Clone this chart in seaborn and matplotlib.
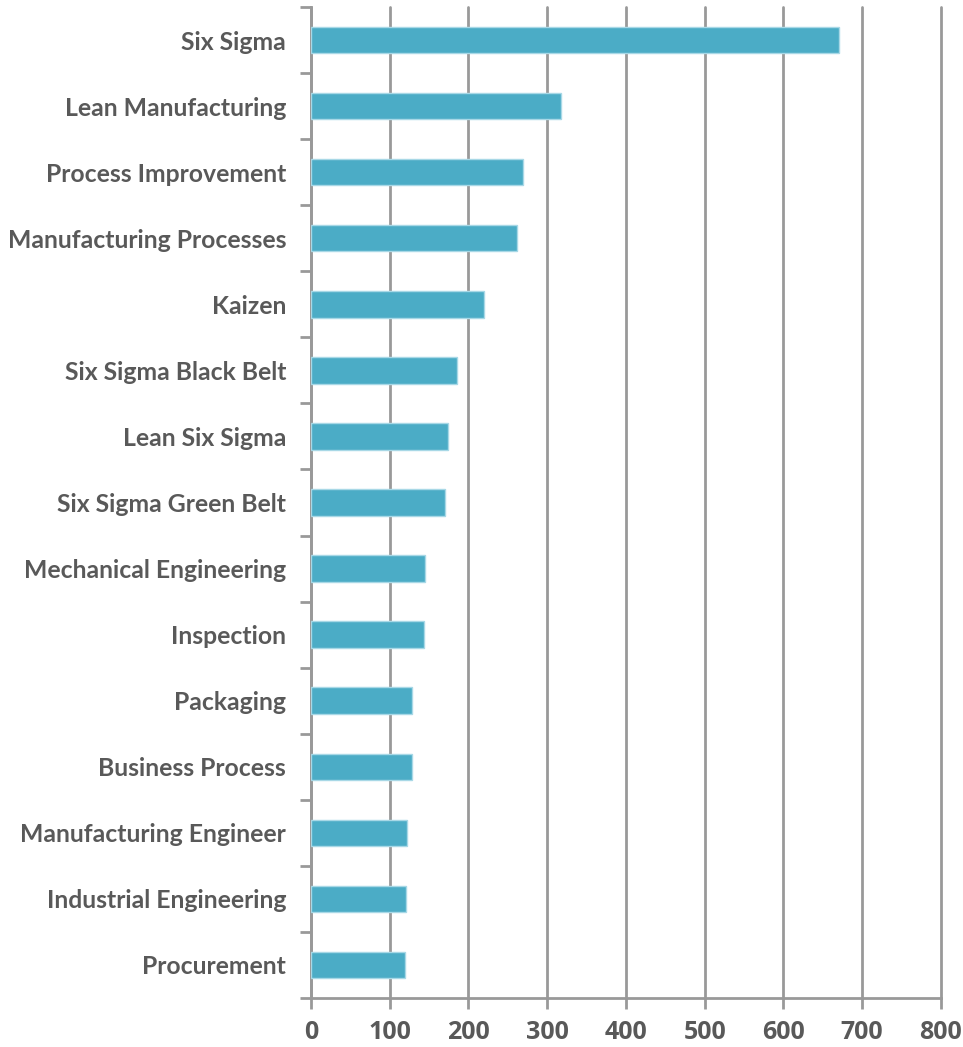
import numpy as np
import matplotlib
matplotlib.use("Agg")
import matplotlib.pyplot as plt
import pandas as pd
import seaborn as sns

# Datos
skills = [
    "Six Sigma", "Lean Manufacturing", "Process Improvement",
    "Manufacturing Processes", "Kaizen", "Six Sigma Black Belt",
    "Lean Six Sigma", "Six Sigma Green Belt", "Mechanical Engineering",
    "Inspection", "Packaging", "Business Process",
    "Manufacturing Engineer", "Industrial Engineering", "Procurement",
]
counts = [671, 317, 269, 261, 220, 185, 174, 170, 145, 143, 128, 128, 122, 120, 119]
x_ticks = [0, 100, 200, 300, 400, 500, 600, 700, 800]

df = pd.DataFrame({"Skill": skills, "Count": counts})

sns.set_theme(style="white")
plt.rcParams["font.family"] = ["Lato", "DejaVu Sans"]

grid_color = "#999999"
text_color = "#595959"

fig = plt.figure(figsize=(9.63, 10.47), dpi=100)
ax = fig.add_axes([0.323, 0.0468, 0.654, 0.9465])

sns.barplot(data=df, x="Count", y="Skill", color="#4BACC6", saturation=1,
            width=0.4, edgecolor="#A8D8E6", linewidth=1, ax=ax, zorder=3)

ax.set_xlim(0, 800)
ax.set_ylim(len(skills) - 0.5, -0.5)
ax.set_xlabel("")
ax.set_ylabel("")

# Marcas de los ejes (antes de las etiquetas para no pisar el tamaño)
ax.set_yticks(np.arange(-0.5, len(skills), 1), minor=True)
ax.tick_params(axis="y", which="major", length=0, pad=18, labelsize=17.8,
               labelcolor=text_color)
ax.tick_params(axis="y", which="minor", length=8, width=2, color=grid_color, left=True)
ax.tick_params(axis="x", which="major", length=8, width=2, color=grid_color,
               bottom=True, pad=8, labelsize=18, labelcolor=text_color)

ax.set_xticks(x_ticks)
ax.set_xticklabels([str(v) for v in x_ticks], fontsize=18, fontweight="bold",
                   color=text_color, family=["Open Sans", "DejaVu Sans"])
ax.set_yticks(range(len(skills)))
ax.set_yticklabels(skills, fontsize=17.8, fontweight="bold", color=text_color)

# Rejilla vertical
ax.grid(axis="x", color=grid_color, linewidth=2, zorder=0)
ax.grid(axis="y", visible=False)
for line in ax.xaxis.get_gridlines():
    line.set_clip_on(False)

for side in ["top", "right"]:
    ax.spines[side].set_visible(False)
for side in ["left", "bottom"]:
    ax.spines[side].set_color(grid_color)
    ax.spines[side].set_linewidth(2)

fig.savefig("out.png", dpi=100)
